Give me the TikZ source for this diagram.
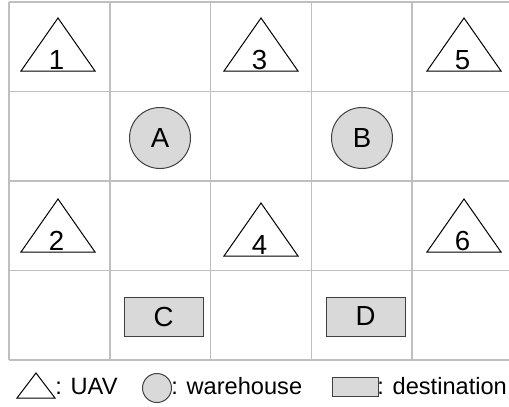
\documentclass[tikz,border=0pt]{standalone}
\usepackage{fontspec}
\setmainfont{Liberation Sans}
\begin{document}
\begin{tikzpicture}[x=.5pt,y=-.5pt,font=\fontsize{11.8}{14}\selectfont,
  gridline/.style={draw=black!25,line width=.75pt},
  uav/.style={draw=black,line width=.5pt,fill=white},
  big/.style={font=\fontsize{13.8}{16}\selectfont},
  store/.style={circle,draw=black!75,line width=.5pt,fill=black!15,minimum size=30.5pt,inner sep=0pt},
  dest/.style={rectangle,draw=black!75,line width=.5pt,fill=black!15,minimum width=39.5pt,minimum height=19.5pt,inner sep=0pt},
  lbl/.style={anchor=base,inner sep=0pt}]
\useasboundingbox (0,0) rectangle (509,407);
\foreach \x in {9,109.75,210.5,311.25,412} \draw[gridline] (\x,2)--(\x,360);
\foreach \y in {2,91.5,181,270.5,360} \draw[gridline] (9,\y)--(512,\y);
\foreach \cx/\by/\t in {58/71/1,261/71/3,464/71/5,58/252/2,261/256/4,464/252/6}{
  \draw[uav] (\cx-37,\by)--(\cx,\by-53)--(\cx+37,\by)--cycle;
  \node[lbl,big] (u\t) at (\cx-1.5,\by-1.5) {\t};}
\node[store,big] (A) at (160,138) {A};
\node[store,big] (B) at (362,138) {B};
\node[dest,big] (C) at (163.5,316.5) {C};
\node[dest,big] (D) at (365.5,316.5) {D};
\draw[uav] (17,398)--(36,373)--(55,398)--cycle;
\node[lbl,anchor=base west] (kuav) at (55,394) {: UAV};
\node[store,minimum size=14.5pt] (kstore) at (157,388) {};
\node[lbl,anchor=base west] (kwh) at (171,394) {: warehouse};
\node[dest,minimum width=23pt,minimum height=9.5pt] (kdest) at (355,386.5) {};
\node[lbl,anchor=base west] (kds) at (377,394) {: destination};
\end{tikzpicture}
\end{document}
